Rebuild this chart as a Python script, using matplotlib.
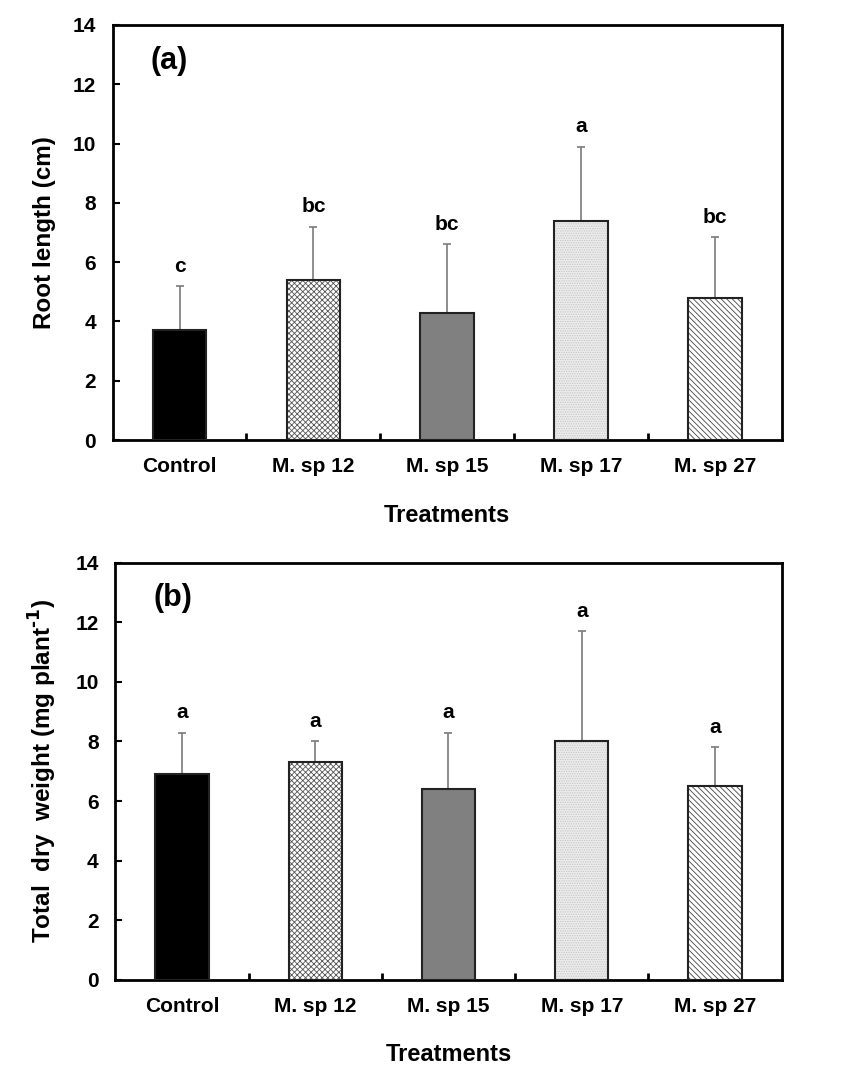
import matplotlib.pyplot as plt
import numpy as np

plt.rcParams['font.family'] = ['Liberation Sans', 'DejaVu Sans']
plt.rcParams['font.weight'] = 'bold'
plt.rcParams['hatch.linewidth'] = 0.6

treatments = ['Control', 'M. sp 12', 'M. sp 15', 'M. sp 17', 'M. sp 27']

root_len = [3.7, 5.4, 4.3, 7.4, 4.8]
root_err = [1.5, 1.8, 2.3, 2.5, 2.05]
root_letters = ['c', 'bc', 'bc', 'a', 'bc']

dry_wt = [6.9, 7.3, 6.4, 8.0, 6.5]
dry_err = [1.4, 0.7, 1.9, 3.7, 1.3]
dry_letters = ['a', 'a', 'a', 'a', 'a']

faces = ['black', 'white', '#808080', '#ececec', 'white']
hatches = [None, 'xxxxxx', None, '.......', '\\\\\\\\\\\\']
hatch_cols = ['black', '#555555', '#808080', '#c4c4c4', '#444444']

fig = plt.figure(figsize=(8.6, 10.84), dpi=100)
ax1 = fig.add_axes([0.131, 0.594, 0.778, 0.383])
ax2 = fig.add_axes([0.134, 0.096, 0.775, 0.385])


def panel(ax, vals, errs, letters, ylabel, tag):
    x = np.arange(len(vals))
    for i in range(len(vals)):
        ax.bar(x[i], vals[i], 0.4, color=faces[i], hatch=hatches[i],
               edgecolor=hatch_cols[i], linewidth=0, zorder=2)
        ax.bar(x[i], vals[i], 0.4, fill=False, edgecolor='#222222',
               linewidth=1.5, zorder=3)
    ax.errorbar(x, vals, yerr=[np.zeros(len(vals)), errs], fmt='none',
                ecolor='#7a7a7a', elinewidth=1.2, capsize=3, capthick=1.2, zorder=1)
    for i in range(len(vals)):
        ax.text(x[i], vals[i] + errs[i] + 0.35, letters[i], ha='center',
                va='bottom', fontsize=15, fontweight='bold')
    ax.set_xlim(-0.5, 4.5)
    ax.set_ylim(0, 14)
    ax.set_yticks(range(0, 15, 2))
    ax.set_xticks(x)
    ax.set_xticklabels(treatments, fontsize=15, fontweight='bold')
    ax.set_xticks(np.arange(0.5, 4.5, 1), minor=True)
    ax.tick_params(axis='x', which='major', length=0, pad=12)
    ax.tick_params(axis='x', which='minor', direction='in', length=5, width=2)
    ax.tick_params(axis='y', direction='in', length=5, width=1.5, labelsize=15, pad=12)
    for lab in ax.get_yticklabels():
        lab.set_fontweight('bold')
    for s in ax.spines.values():
        s.set_linewidth(2)
    ax.set_xlabel('Treatments', fontsize=17, fontweight='bold', labelpad=20)
    ax.set_ylabel(ylabel, fontsize=17.5, fontweight='bold', labelpad=12)
    ax.text(0.057, 0.95, tag, transform=ax.transAxes, fontsize=22,
            fontweight='bold', va='top')


panel(ax1, root_len, root_err, root_letters, 'Root length (cm)', '(a)')
panel(ax2, dry_wt, dry_err, dry_letters,
      r'Total  dry  weight (mg plant$^{\mathbf{\text{-}1}}$)', '(b)')

fig.savefig('out.png', dpi=100)
